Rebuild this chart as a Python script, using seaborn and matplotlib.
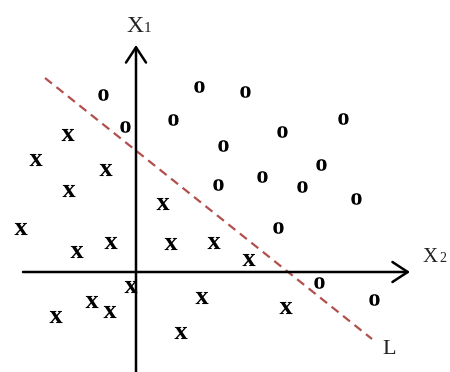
import matplotlib
matplotlib.use('Agg')
import matplotlib.pyplot as plt
import numpy as np
import pandas as pd
import seaborn as sns
from matplotlib.textpath import TextPath
from matplotlib.font_manager import FontProperties
from matplotlib.path import Path

# class "o" points (X2, X1)
o_x2 = [-33, -11, 37, 63, 109, 207, 146, 87, 185, 126, 166, 82, 220, 142, 183, 238]
o_x1 = [177, 145, 152, 185, 180, 153, 140, 126, 107, 95, 85, 87, 73, 44, -11, -28]

# class "x" points (X2, X1)
x_x2 = [-68, -100, -30, -67, -115, -59, -25, 27, 35, 78, 113, -5, -44, -26, -80, 66, 45, 150]
x_x1 = [137, 112, 102, 81, 43, 20, 29, 68, 28, 29, 12, -15, -30, -40, -45, -26, -61, -36]

# separating line L
line_x2 = [-91, 236]
line_x1 = [194, -67]

sns.set_theme(style='white')
plt.rcParams['font.family'] = ['Liberation Serif', 'DejaVu Serif']

df = pd.DataFrame({
    'x2': o_x2 + x_x2,
    'x1': o_x1 + x_x1,
    'cls': ['o'] * len(o_x2) + ['x'] * len(x_x2),
})


def glyph_marker(ch):
    tp = TextPath((0, 0), ch, prop=FontProperties(family='Liberation Serif', weight='bold'))
    v = tp.vertices.copy()
    lo, hi = v.min(axis=0), v.max(axis=0)
    v -= (lo + hi) / 2
    return Path(v, tp.codes)


fig = plt.figure(figsize=(4.5, 3.72), dpi=100)
ax = fig.add_axes([0, 0, 1, 1])

# coordinate axes with open arrow heads
arrow = dict(arrowstyle='->,head_length=0.55,head_width=0.36', lw=1.8, color='black',
             shrinkA=0, shrinkB=0, mutation_scale=20)
ax.annotate('', xy=(0, 227), xytext=(0, -100), arrowprops=arrow)
ax.annotate('', xy=(274, 0), xytext=(-113, 0), arrowprops=arrow)

sns.lineplot(x=line_x2, y=line_x1, ax=ax, color='#b24f4b', lw=1.6,
             linestyle=(0, (4, 2.6)))

sns.scatterplot(data=df, x='x2', y='x1', style='cls', size='cls',
                markers={'o': glyph_marker('o'), 'x': glyph_marker('x')},
                sizes={'o': 70, 'x': 88},
                color='black', linewidth=0, legend=False, ax=ax)

ax.text(7, 240, 'X', fontsize=17, ha='right', va='baseline', color='#222222')
ax.text(8, 240, '1', fontsize=11, ha='left', va='baseline', color='#222222')
ax.text(302, 10, 'X', fontsize=15, ha='right', va='baseline', color='#222222')
ax.text(303, 10, '2', fontsize=10, ha='left', va='baseline', color='#222222')
ax.text(246, -82, 'L', fontsize=16, ha='left', va='baseline', color='#222222')

ax.set_xlim(-136, 314)
ax.set_ylim(-100, 272)
ax.axis('off')

fig.savefig('out.png', dpi=100)
